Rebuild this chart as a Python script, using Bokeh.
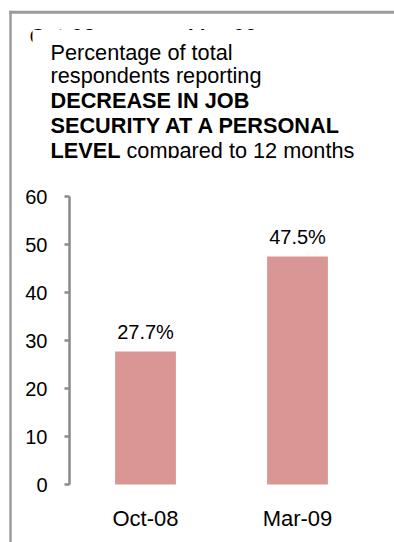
from bokeh.plotting import figure
from bokeh.models import Range1d, FixedTicker
from bokeh.core.properties import value
from bokeh.embed import file_html
from bokeh.resources import INLINE

# ---- data ----
categories = ["Oct-08", "Mar-09"]
values = [27.7, 47.5]
value_labels = ["27.7%", "47.5%"]
y_ticks = [0, 10, 20, 30, 40, 50, 60]
title_lines_normal = ["Percentage of total", "respondents reporting"]
title_lines_bold = ["DECREASE IN JOB", "SECURITY AT A PERSONAL", "LEVEL"]
title_tail = "compared to 12 months"

# ---- style ----
FONT = value("Liberation Sans")
BAR = "#D99694"
BORDER = "#9c9c9c"
AXIS = "#8a8a8a"
TXT = "#000000"

W, H = 394, 542
AX_X = 69       # pixel position of the value axis
UNIT = 152      # pixels per category slot
Y0 = 484        # pixel position of value 0
PXV = 4.8       # pixels per value unit
BL = -7         # baseline correction for text glyphs
TFS = 21.7      # title font size (px)

xpos = [i + 0.5 for i in range(len(categories))]

p = figure(width=W, height=H,
           x_range=Range1d(-AX_X / UNIT, (W - AX_X) / UNIT),
           y_range=Range1d(-(H - Y0) / PXV, Y0 / PXV),
           output_backend="svg", toolbar_location=None,
           min_border=0, outline_line_color=None,
           background_fill_color="white", border_fill_color="white")
p.grid.visible = False
p.extra_x_ranges = {"px": Range1d(0, W)}
p.extra_y_ranges = {"px": Range1d(H, 0)}

# ---- frame border and title block (pixel coordinates) ----
px = dict(x_range_name="px", y_range_name="px")
p.line([8.8, W], [11.8, 11.8], line_width=3, line_color=BORDER, **px)
p.line([10, 10], [10.3, H], line_width=2.5, line_color=BORDER, **px)
p.text(x=[29, 187], y=[42.5 + BL, 42.5 + BL], text=categories, text_font=FONT,
       text_font_size="22px", text_color=TXT, text_baseline="alphabetic",
       text_align="left", **px)
p.quad(left=[32], right=[W], top=[29.5], bottom=[157], fill_color="white",
       line_color=None, **px)
baselines = [59.3 + BL, 82.0 + BL, 106.8 + BL, 131.7 + BL, 156.5 + BL]
p.text(x=[50, 50], y=baselines[:2], text=title_lines_normal, text_font=FONT,
       text_font_size=f"{TFS}px", text_color=TXT, text_baseline="alphabetic", **px)
p.text(x=[50, 50, 50], y=baselines[2:], text=title_lines_bold, text_font=FONT,
       text_font_size=f"{TFS}px", text_font_style="bold", text_color=TXT,
       text_baseline="alphabetic", **px)
p.text(x=[50 + 3.501 * TFS], y=[baselines[4]], text=[title_tail], text_font=FONT,
       text_font_size=f"{TFS}px", text_color=TXT, text_baseline="alphabetic", **px)
p.quad(left=[32], right=[W], top=[157.5], bottom=[185], fill_color="white",
       line_color=None, **px)

# ---- bars ----
p.vbar(x=xpos, top=values, width=0.4, fill_color=BAR, line_color=None)
p.text(x=xpos, y=values, text=value_labels, y_offset=-13 + BL,
       text_font=FONT, text_font_size="20px", text_color=TXT,
       text_align="center", text_baseline="alphabetic")

# ---- axes ----
yax = p.yaxis[0]
yax.fixed_location = 0
yax.bounds = (y_ticks[0], y_ticks[-1])
yax.ticker = FixedTicker(ticks=y_ticks)
yax.axis_line_color = AXIS
yax.axis_line_width = 2.5
yax.major_tick_line_color = AXIS
yax.major_tick_line_width = 2.5
yax.major_tick_out = 5
yax.major_tick_in = 0
yax.minor_tick_line_color = None
yax.major_label_text_font = "Liberation Sans"
yax.major_label_text_font_size = "20px"
yax.major_label_text_color = TXT
yax.major_label_standoff = 17

xax = p.xaxis[0]
xax.fixed_location = 0
xax.ticker = FixedTicker(ticks=xpos)
xax.major_label_overrides = {x: c for x, c in zip(xpos, categories)}
xax.axis_line_color = None
xax.major_tick_line_color = None
xax.minor_tick_line_color = None
xax.major_tick_out = 0
xax.major_tick_in = 0
xax.major_label_text_font = "Liberation Sans"
xax.major_label_text_font_size = "22px"
xax.major_label_text_color = TXT
xax.major_label_standoff = 21

open("out.html", "w").write(file_html(p, INLINE))
